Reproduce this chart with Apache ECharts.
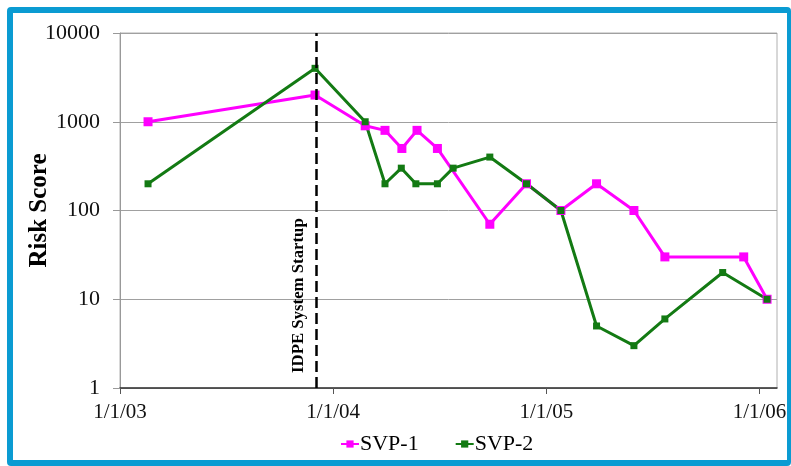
<!DOCTYPE html>
<html>
<head>
<meta charset="utf-8">
<script src="https://cdn.jsdelivr.net/npm/echarts@6/dist/echarts.min.js"></script>
<style>
html,body{margin:0;padding:0;background:#fff;}
#chart{position:absolute;left:0;top:0;width:791px;height:466px;}
#frame{position:absolute;left:7px;top:7px;width:784px;height:459px;box-sizing:border-box;
  border-style:solid;border-color:#0a9bd2;border-width:6px 4px 6px 6px;border-radius:4px;pointer-events:none;}
</style>
</head>
<body>
<div id="chart"></div>
<div id="frame"></div>
<script>
const svp1Dates = ['2003-02-18','2003-12-01','2004-02-25','2004-03-30','2004-04-28','2004-05-24','2004-06-28','2004-09-26','2004-11-28','2005-01-26','2005-03-28','2005-05-31','2005-07-23','2005-12-05','2006-01-14'];
const svp1Values = [1000,2000,900,800,500,800,500,70,200,100,200,100,30,30,10];
const svp2Dates = ['2003-02-18','2003-12-01','2004-02-25','2004-03-30','2004-04-27','2004-05-22','2004-06-28','2004-07-25','2004-09-26','2004-11-28','2005-01-26','2005-03-28','2005-05-31','2005-07-23','2005-10-30','2006-01-14'];
const svp2Values = [200,4000,1000,200,300,200,200,300,400,200,100,5,3,6,20,10];
const xTickYears = [2003,2004,2005,2006];
const xAxisStart = '2003-01-01';
const xAxisEnd = '2006-01-31';
const startupDate = '2003-12-03';
const startupLabel = 'IDPE System Startup';
const yAxisName = 'Risk Score';
const seriesNames = ['SVP-1','SVP-2'];

function toYear(s){
  const d = Date.parse(s + 'T00:00:00Z');
  const y = new Date(d).getUTCFullYear();
  const a = Date.UTC(y,0,1), b = Date.UTC(y+1,0,1);
  return y + (d - a) / (b - a);
}
const serif = '"Liberation Serif","DejaVu Serif",serif';
const chart = echarts.init(document.getElementById('chart'));
chart.setOption({
  animation:false,
  backgroundColor:'#fff',
  grid:{left:120,top:33,right:14,bottom:78,show:true,borderColor:'#b0b0b0',borderWidth:1},
  legend:{
    left:335, top:428, itemWidth:18, itemHeight:9, itemGap:36,
    textStyle:{fontFamily:serif,fontSize:22,color:'#000',padding:[0,0,0,-4]},
    data:seriesNames
  },
  xAxis:{
    type:'value', min:toYear(xAxisStart), max:toYear(xAxisEnd), interval:1,
    splitLine:{show:false},
    axisLine:{lineStyle:{color:'#333',width:1.5}},
    axisTick:{show:true,length:6,lineStyle:{color:'#555'},customValues:xTickYears},
    axisLabel:{customValues:xTickYears,fontFamily:serif,fontSize:21,color:'#111',margin:14,
      formatter:v=>'1/1/'+String(Math.round(v)).slice(2)}
  },
  yAxis:{
    type:'log', logBase:10, min:1, max:10000,
    name:yAxisName, nameLocation:'middle', nameGap:68, nameMoveOverlap:false,
    nameTextStyle:{fontFamily:serif,fontSize:25,fontWeight:'bold',color:'#000'},
    axisLine:{show:true,lineStyle:{color:'#999',width:1}},
    axisTick:{show:true,length:7,lineStyle:{color:'#999'}},
    axisLabel:{fontFamily:serif,fontSize:22,color:'#111',margin:20,formatter:v=>String(Math.round(v))},
    splitLine:{lineStyle:{color:'#a0a0a0',width:1}}
  },
  series:[
    {
      name:seriesNames[0], type:'line', color:'#ff00ff',
      symbol:'rect', symbolSize:9,
      lineStyle:{width:3},
      data:svp1Dates.map((d,i)=>[toYear(d),svp1Values[i]]),
      markLine:{
        silent:true, symbol:['none','none'],
        lineStyle:{color:'#000',type:[11,5],width:2.5},
        label:{show:true,formatter:startupLabel,position:'insideStartTop',distance:[15,9],
          fontFamily:serif,fontSize:16.8,fontWeight:'bold',color:'#000'},
        data:[{xAxis:toYear(startupDate)}]
      }
    },
    {
      name:seriesNames[1], type:'line', color:'#137a13',
      symbol:'rect', symbolSize:7,
      lineStyle:{width:3},
      data:svp2Dates.map((d,i)=>[toYear(d),svp2Values[i]])
    }
  ]
});
</script>
</body>
</html>
